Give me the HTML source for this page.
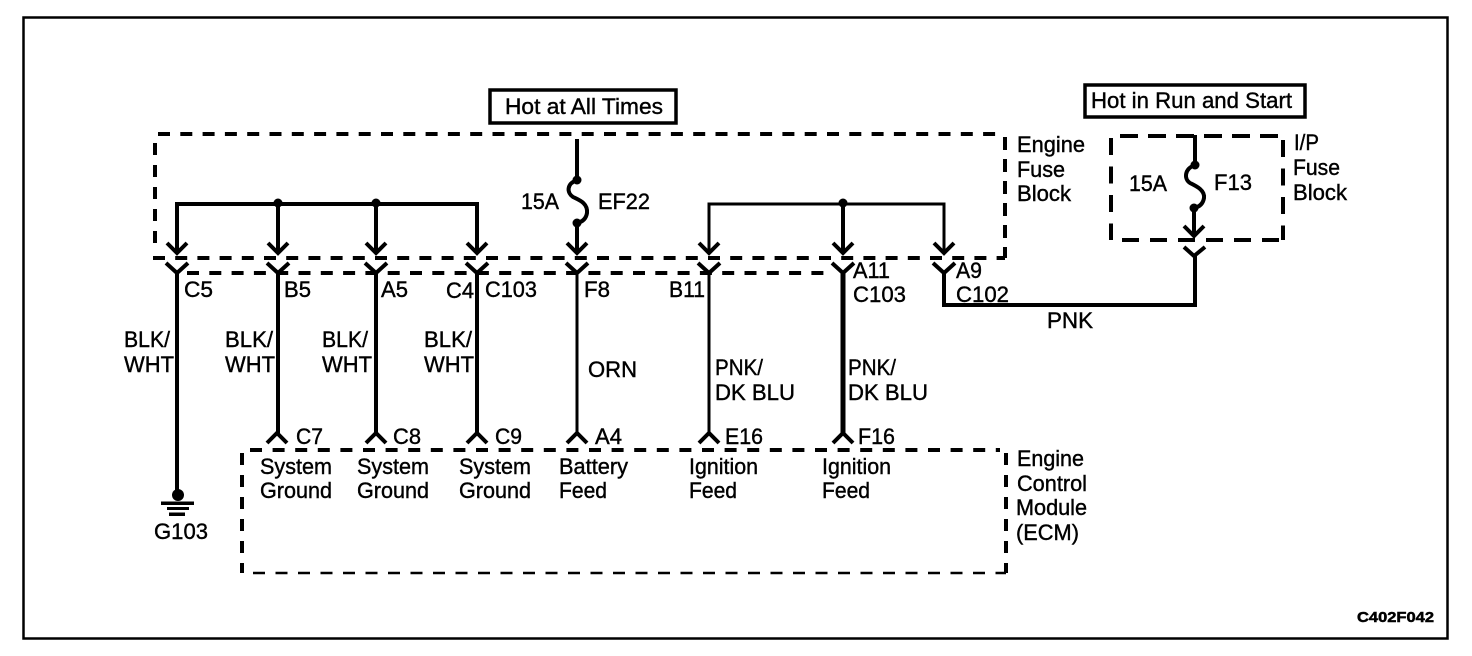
<!DOCTYPE html>
<html><head><meta charset="utf-8">
<style>
html,body{margin:0;padding:0;background:#fff;width:1472px;height:656px;overflow:hidden}
svg{display:block}
text{font-family:"Liberation Sans",sans-serif;font-size:22px;fill:#000;stroke:#000;stroke-width:.4px}
.w{fill:none;stroke:#000;stroke-width:4}
.t{fill:none;stroke:#000;stroke-width:3}
.d{fill:none;stroke:#000;stroke-width:4}
</style></head><body>
<svg width="1472" height="656" viewBox="0 0 1472 656" xmlns="http://www.w3.org/2000/svg">
<rect x="23.5" y="17.5" width="1424" height="621" fill="none" stroke="#000" stroke-width="2.5"/>

<rect x="490" y="90" width="186" height="33" fill="none" stroke="#000" stroke-width="3.5"/>
<rect x="1085" y="85" width="220" height="32" fill="none" stroke="#000" stroke-width="3.5"/>
<text x="505" y="114" textLength="158" lengthAdjust="spacingAndGlyphs">Hot at All Times</text>
<text x="1091" y="108" textLength="201" lengthAdjust="spacingAndGlyphs">Hot in Run and Start</text>

<!-- Engine fuse block -->
<path class="d" style="stroke-dasharray:12 10.3" d="M158 134H1000"/>
<path class="d" style="stroke-dasharray:12 10" d="M155 143V245"/>
<path class="d" style="stroke-dasharray:12 10.2" d="M153 258H1005"/>
<path class="d" style="stroke-dasharray:13 9" d="M1005 137V258"/>
<path class="d" style="stroke-dasharray:12 10.3" d="M187 273H825"/>
<!-- IP fuse block -->
<path class="d" style="stroke-dasharray:18 10" d="M1120 136H1278"/>
<path class="d" style="stroke-dasharray:17 11.5" d="M1111 138V240"/>
<path class="d" style="stroke-dasharray:17 11.5" d="M1283 140V240"/>
<path class="d" style="stroke-dasharray:17 11" d="M1122 240H1283"/>
<!-- ECM -->
<path class="d" style="stroke-dasharray:12 10.6" d="M250 450H1000"/>
<path class="d" style="stroke-dasharray:12 10" d="M242 453V573"/>
<path fill="none" stroke="#000" stroke-width="2.5" style="stroke-dasharray:12 10.5" d="M253 573H1006"/>
<path class="d" style="stroke-dasharray:12 10" d="M1006 453V573"/>

<!-- bus lines -->
<path class="w" d="M177 253V204H477V253"/>
<path class="w" d="M278 204V253M376 204V253"/>
<path class="t" d="M709 253V204H944V253"/>
<path class="w" d="M843 204V253"/>
<circle cx="278" cy="203" r="4.5"/><circle cx="376" cy="203" r="4.5"/><circle cx="843" cy="203" r="4.5"/>

<!-- EF22 fuse -->
<path class="w" d="M577 139V180"/>
<circle cx="577" cy="180" r="4.5"/>
<path class="w" d="M577 180C566 184 567 193 573 197C579 200 588 203 587 213C586 219 582 222 577 223"/>
<circle cx="577" cy="223" r="4.5"/>
<path class="w" d="M577 223V253"/>

<!-- F13 fuse -->
<path class="w" d="M1195 135V165"/>
<circle cx="1195" cy="165" r="4.5"/>
<path class="w" d="M1195 165C1184 169 1184 179 1190 183C1196 186 1205 190 1204 198C1203 204 1199 207 1194 208"/>
<circle cx="1194" cy="208" r="4.5"/>
<path class="w" d="M1194 208V236"/>

<!-- arrowheads pointing down -->
<g class="w">
<path d="M167 243L177 253L187 243M268 243L278 253L288 243M366 243L376 253L386 243M467 243L477 253L487 243M567 243L577 253L587 243M699 243L709 253L719 243M833 243L843 253L853 243M934 243L944 253L954 243M1184 226L1194 236L1204 226"/>
</g>
<!-- Y connectors -->
<g class="w">
<path d="M166 263L177 273L188 263M267 263L278 273L289 263M365 263L376 273L387 263M466 263L477 273L488 263M566 263L577 273L588 263M698 263L709 273L720 263M832 263L843 273L854 263M933 263L944 273L955 263M1184 247L1194 256L1205 247"/>
</g>
<!-- vertical wires -->
<path class="w" d="M177 273V495"/>
<path class="w" d="M278 273V433M376 273V433M477 273V433"/>
<path class="t" d="M577 273V433"/>
<path class="t" d="M709 273V433"/>
<path class="w" style="stroke-width:5" d="M843 273V433"/>
<path class="w" d="M944 273V305H1195V256"/>

<!-- bottom connectors -->
<g class="w">
<path d="M267 443L277 433L287 443M366 443L376 433L386 443M467 443L477 433L487 443M567 443L577 433L587 443M699 443L709 433L719 443M833 443L843 433L853 443"/>
</g>
<!-- ground -->
<circle cx="178" cy="495" r="6"/>
<rect x="161" y="501.5" width="33" height="3.5"/>
<rect x="167" y="507" width="22" height="3"/>
<rect x="169" y="512.5" width="16" height="3.5"/>

<!-- labels -->
<text x="1017" y="152" textLength="68" lengthAdjust="spacingAndGlyphs">Engine</text>
<text x="1017" y="177" textLength="48" lengthAdjust="spacingAndGlyphs">Fuse</text>
<text x="1017" y="201" textLength="54" lengthAdjust="spacingAndGlyphs">Block</text>
<text x="1294" y="150" textLength="25" lengthAdjust="spacingAndGlyphs">I/P</text>
<text x="1293" y="175" textLength="47" lengthAdjust="spacingAndGlyphs">Fuse</text>
<text x="1293" y="200" textLength="54" lengthAdjust="spacingAndGlyphs">Block</text>
<text x="521" y="209" textLength="38" lengthAdjust="spacingAndGlyphs">15A</text>
<text x="598" y="209" textLength="52" lengthAdjust="spacingAndGlyphs">EF22</text>
<text x="1129" y="191" textLength="38" lengthAdjust="spacingAndGlyphs">15A</text>
<text x="1214" y="190" textLength="38" lengthAdjust="spacingAndGlyphs">F13</text>

<text x="184" y="297" textLength="29" lengthAdjust="spacingAndGlyphs">C5</text>
<text x="284" y="297" textLength="27" lengthAdjust="spacingAndGlyphs">B5</text>
<text x="381" y="297" textLength="27" lengthAdjust="spacingAndGlyphs">A5</text>
<text x="446" y="298" textLength="28" lengthAdjust="spacingAndGlyphs">C4</text>
<text x="485" y="297" textLength="52" lengthAdjust="spacingAndGlyphs">C103</text>
<text x="584" y="297" textLength="26" lengthAdjust="spacingAndGlyphs">F8</text>
<text x="669" y="297" textLength="36" lengthAdjust="spacingAndGlyphs">B11</text>
<text x="853" y="278" textLength="37" lengthAdjust="spacingAndGlyphs">A11</text>
<text x="853" y="302" textLength="53" lengthAdjust="spacingAndGlyphs">C103</text>
<text x="956" y="278" textLength="26" lengthAdjust="spacingAndGlyphs">A9</text>
<text x="956" y="302" textLength="53" lengthAdjust="spacingAndGlyphs">C102</text>
<text x="1047" y="328" textLength="46" lengthAdjust="spacingAndGlyphs">PNK</text>

<text x="124" y="347" textLength="46" lengthAdjust="spacingAndGlyphs">BLK/</text>
<text x="124" y="372" textLength="50" lengthAdjust="spacingAndGlyphs">WHT</text>
<text x="225" y="347" textLength="48" lengthAdjust="spacingAndGlyphs">BLK/</text>
<text x="225" y="372" textLength="50" lengthAdjust="spacingAndGlyphs">WHT</text>
<text x="322" y="347" textLength="46" lengthAdjust="spacingAndGlyphs">BLK/</text>
<text x="322" y="372" textLength="50" lengthAdjust="spacingAndGlyphs">WHT</text>
<text x="424" y="347" textLength="48" lengthAdjust="spacingAndGlyphs">BLK/</text>
<text x="424" y="372" textLength="50" lengthAdjust="spacingAndGlyphs">WHT</text>
<text x="588" y="377" textLength="49" lengthAdjust="spacingAndGlyphs">ORN</text>
<text x="715" y="375" textLength="48" lengthAdjust="spacingAndGlyphs">PNK/</text>
<text x="715" y="400" textLength="80" lengthAdjust="spacingAndGlyphs">DK BLU</text>
<text x="848" y="375" textLength="48" lengthAdjust="spacingAndGlyphs">PNK/</text>
<text x="848" y="400" textLength="80" lengthAdjust="spacingAndGlyphs">DK BLU</text>

<text x="296" y="444" textLength="27" lengthAdjust="spacingAndGlyphs">C7</text>
<text x="393" y="444" textLength="28" lengthAdjust="spacingAndGlyphs">C8</text>
<text x="495" y="444" textLength="27" lengthAdjust="spacingAndGlyphs">C9</text>
<text x="595" y="444" textLength="27" lengthAdjust="spacingAndGlyphs">A4</text>
<text x="725" y="444" textLength="38" lengthAdjust="spacingAndGlyphs">E16</text>
<text x="858" y="444" textLength="37" lengthAdjust="spacingAndGlyphs">F16</text>

<text x="260" y="474" textLength="72" lengthAdjust="spacingAndGlyphs">System</text>
<text x="260" y="498" textLength="72" lengthAdjust="spacingAndGlyphs">Ground</text>
<text x="357" y="474" textLength="72" lengthAdjust="spacingAndGlyphs">System</text>
<text x="357" y="498" textLength="72" lengthAdjust="spacingAndGlyphs">Ground</text>
<text x="459" y="474" textLength="72" lengthAdjust="spacingAndGlyphs">System</text>
<text x="459" y="498" textLength="72" lengthAdjust="spacingAndGlyphs">Ground</text>
<text x="559" y="474" textLength="69" lengthAdjust="spacingAndGlyphs">Battery</text>
<text x="559" y="498" textLength="48" lengthAdjust="spacingAndGlyphs">Feed</text>
<text x="689" y="474" textLength="69" lengthAdjust="spacingAndGlyphs">Ignition</text>
<text x="689" y="498" textLength="48" lengthAdjust="spacingAndGlyphs">Feed</text>
<text x="822" y="474" textLength="69" lengthAdjust="spacingAndGlyphs">Ignition</text>
<text x="822" y="498" textLength="48" lengthAdjust="spacingAndGlyphs">Feed</text>

<text x="1017" y="466" textLength="67" lengthAdjust="spacingAndGlyphs">Engine</text>
<text x="1017" y="491" textLength="70" lengthAdjust="spacingAndGlyphs">Control</text>
<text x="1016" y="515" textLength="71" lengthAdjust="spacingAndGlyphs">Module</text>
<text x="1016" y="540" textLength="63" lengthAdjust="spacingAndGlyphs">(ECM)</text>
<text x="154" y="539" textLength="54" lengthAdjust="spacingAndGlyphs">G103</text>

<text x="1357" y="622" textLength="77" lengthAdjust="spacingAndGlyphs" style="font-size:15px;font-weight:bold;stroke-width:.5px">C402F042</text>
</svg>
</body></html>
